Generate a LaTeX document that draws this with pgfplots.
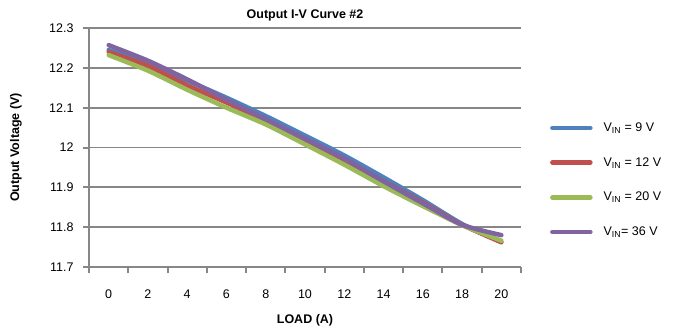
\documentclass[border=0pt]{standalone}
\usepackage{pgfplots}
\pgfplotsset{compat=1.18}
\usepackage{fontspec}
\setmainfont{Liberation Sans}

\definecolor{vblue}{HTML}{4F81BD}
\definecolor{vred}{HTML}{C0504D}
\definecolor{vgreen}{HTML}{9BBB59}
\definecolor{vpurple}{HTML}{8064A2}
\definecolor{gridgray}{HTML}{878787}

\newcommand{\lbl}{\fontsize{12.5}{14}\selectfont}

\begin{document}
\begin{tikzpicture}
\useasboundingbox (-89pt,-68pt) rectangle (584pt,267pt);
\begin{axis}[
  at={(0,0)}, anchor=south west,
  scale only axis, width=432pt, height=239pt,
  xmin=-1, xmax=21, ymin=11.7, ymax=12.3,
  axis lines=left,
  axis line style={-, draw=gridgray, line width=2pt},
  /pgf/number format/assume math mode=true,
  tick label style={font=\lbl, text=black},
  xtick={0,2,...,20},
  xticklabels={0,2,4,6,8,10,12,14,16,18,20},
  minor xtick={-1,1,...,21},
  major x tick style={draw=none},
  minor tick length=6pt,
  major tick length=6pt,
  tick align=outside,
  tick style={draw=gridgray, line width=2pt},
  ytick={11.7,11.8,11.9,12,12.1,12.2,12.3},
  yticklabels={11.7,11.8,11.9,12,12.1,12.2,12.3},
  ymajorgrids,
  grid style={draw=gridgray, line width=1.8pt},
  xticklabel style={yshift=-13pt},
  yticklabel style={xshift=-6pt},
  title={Output I-V Curve \#2},
  title style={font=\bfseries\lbl, at={(0.5,1)}, anchor=center, yshift=7pt},
  xlabel={LOAD (A)},
  xlabel style={font=\bfseries\lbl, at={(0.5,0)}, anchor=center, yshift=-53pt},
  ylabel={Output Voltage (V)},
  ylabel style={font=\bfseries\lbl, at={(0,0.5)}, anchor=center, yshift=73pt},
  legend style={at={(1.067,0.364)}, anchor=west, draw=none, fill=none,
    inner sep=0pt, row sep=20.5pt, font=\lbl, cells={anchor=west}},
  legend image code/.code={\draw[#1, line width=4.5pt, line cap=round] (0pt,0pt) -- (38pt,0pt); \path (47pt,0pt);},
  every axis plot/.append style={line width=4.5pt, line cap=round, line join=round, smooth, tension=0.4},
]
% V_IN = 9 V
\addplot[vblue] coordinates {(0,12.245) (2,12.210) (4,12.168) (6,12.125) (8,12.079) (10,12.030) (12,11.980) (14,11.925) (16,11.868) (18,11.808) (20,11.763)};
% V_IN = 12 V
\addplot[vred] coordinates {(0,12.240) (2,12.205) (4,12.156) (6,12.113) (8,12.067) (10,12.018) (12,11.966) (14,11.915) (16,11.862) (18,11.806) (20,11.762)};
% V_IN = 20 V
\addplot[vgreen] coordinates {(0,12.232) (2,12.193) (4,12.145) (6,12.100) (8,12.058) (10,12.008) (12,11.957) (14,11.903) (16,11.853) (18,11.805) (20,11.766)};
% V_IN = 36 V
\addplot[vpurple] coordinates {(0,12.257) (2,12.218) (4,12.171) (6,12.120) (8,12.071) (10,12.022) (12,11.972) (14,11.915) (16,11.860) (18,11.806) (20,11.780)};
\legend{V\textsubscript{IN} = 9 V, V\textsubscript{IN} = 12 V, V\textsubscript{IN} = 20 V, V\textsubscript{IN}= 36 V}
\end{axis}
\end{tikzpicture}
\end{document}
